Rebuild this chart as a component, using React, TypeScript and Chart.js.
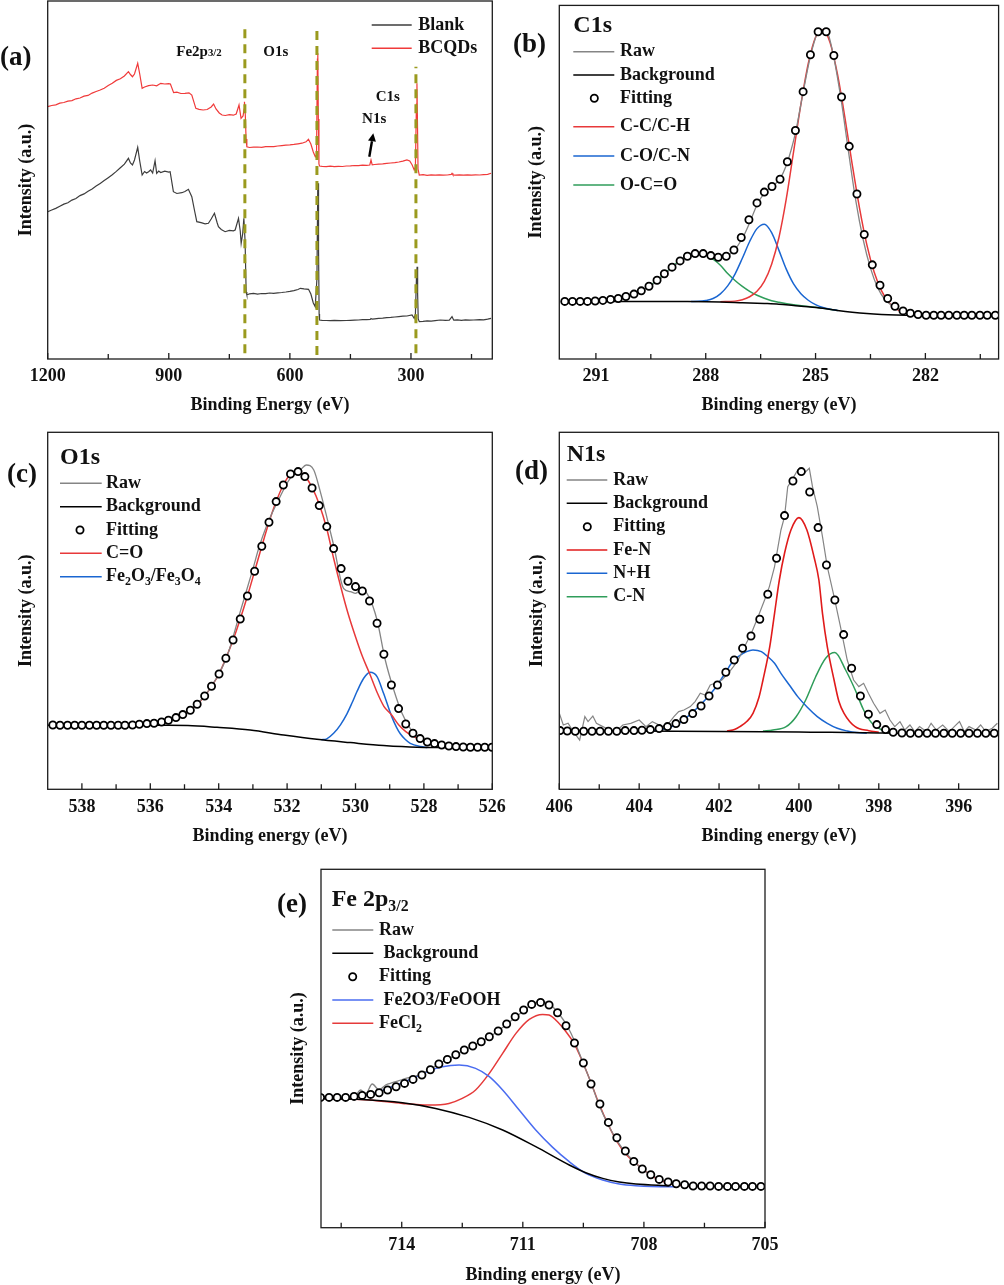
import React, { useEffect, useRef } from 'react';
import { Chart, registerables } from 'chart.js';

Chart.register(...registerables);

type P = [number, number];
type Seg = { t: string; sub?: boolean; small?: boolean };

const SERIF = "'Liberation Serif', 'Times New Roman', Times, serif";
const INK = '#111111';
const GRAY = '#858585';
const RED = '#e8393a';
const BLUE = '#1a66d1';
const GREEN = '#2f9d5a';
const RED_E = '#e53a3a';
const BLUE_E = '#4a6cf0';
const OLIVE = '#9a9a1e';
const SURVEY_RED = '#f03a3a';
const SURVEY_GRAY = '#3d3d3d';

// ---------- (a) survey: [binding energy eV, intensity a.u.] ----------
const SURVEY_BCQDS: P[] = [[1200,252.3],[1190,253.5],[1180,254.2],[1170,255.8],[1160,256.5],[1150,257.9],[1140,258.4],[1130,260.2],[1120,261.0],[1110,262.8],[1100,263.6],[1090,265.9],[1080,267.5],[1070,269.0],[1060,270.8],[1050,273.4],[1040,275.7],[1030,278.6],[1020,280.2],[1010,283.0],[1000,287.3],[995,284.5],[990,282.3],[985,285.0],[977,295.7],[972,285.0],[966,270.7],[960,272.0],[950,273.4],[940,274.0],[930,273.2],[920,275.7],[910,275.0],[900,275.4],[896,275.0],[888,266.3],[880,266.8],[870,265.5],[860,265.7],[850,266.2],[843,264.0],[833,250.7],[825,249.7],[815,249.0],[805,249.5],[795,252.0],[789,255.0],[783,250.0],[775,246.0],[768,244.0],[760,243.5],[750,244.3],[740,243.8],[733,245.0],[726,254.0],[721,240.7],[716,243.0],[713.5,250.0],[712.5,257.3],[710.5,245.0],[708.5,220.0],[706.6,212.3],[700,211.5],[690,211.8],[680,212.0],[670,211.6],[660,212.3],[650,212.5],[640,212.3],[630,213.0],[620,213.4],[610,213.8],[600,214.1],[590,214.6],[580,215.2],[570,215.8],[560,217.2],[554,219.7],[548,215.0],[542,207.0],[537,202.3],[534,204.0],[531.8,300.0],[530.8,305.7],[529.5,240.0],[528,195.0],[526.5,193.0],[520,192.6],[510,192.4],[500,192.9],[490,192.3],[480,192.7],[470,192.5],[460,193.0],[450,193.2],[440,193.5],[430,193.4],[420,193.8],[410,193.6],[402,194.0],[399,199.0],[396,194.2],[390,194.5],[380,194.8],[370,195.1],[360,195.6],[350,196.0],[340,196.4],[330,197.0],[320,197.8],[310,199.0],[303,198.0],[297,194.0],[292,189.0],[289,192.0],[286.5,255.0],[285.2,275.7],[284,240.0],[282.5,190.0],[279.4,184.0],[270,184.3],[260,183.7],[250,184.1],[240,183.9],[230,184.2],[220,183.8],[210,184.0],[200,184.6],[198.3,185.7],[196,184.1],[190,183.9],[180,184.2],[170,183.8],[160,184.1],[150,183.9],[140,184.2],[130,184.0],[120,184.3],[110,184.6],[101.6,185.7]];
const SURVEY_BLANK: P[] = [[1200,147.3],[1190,149.0],[1180,150.6],[1170,152.7],[1160,154.9],[1150,156.2],[1140,158.9],[1130,160.5],[1120,163.4],[1110,165.1],[1100,167.8],[1090,170.0],[1080,172.9],[1070,175.6],[1060,178.4],[1050,181.3],[1040,184.3],[1030,187.6],[1020,191.2],[1010,194.8],[1000,200.7],[995,196.0],[990,194.0],[985,199.0],[977,211.7],[972,198.0],[966,184.0],[960,187.5],[955,186.0],[950,187.3],[945,189.0],[940,186.0],[934,198.3],[930,185.7],[925,188.0],[920,186.5],[910,187.8],[900,186.9],[896.7,187.3],[888.6,167.3],[880,165.5],[867.7,166.3],[860,167.5],[851.4,169.7],[843,162.3],[836,148.0],[830.6,137.3],[820,136.3],[810,135.2],[801.8,135.7],[795,140.0],[786.9,145.7],[780,136.0],[777,132.3],[770,129.5],[760.4,127.3],[750,128.6],[740,128.1],[735.6,129.0],[727.3,140.7],[723,128.0],[720.7,115.7],[717,125.0],[714,140.7],[711,118.0],[708.3,67.0],[706.6,64.0],[700,65.2],[690,65.6],[680,64.9],[670,65.5],[660,65.3],[650,66.0],[640.6,65.7],[630,66.1],[620,66.5],[610,67.0],[600,67.6],[590,68.3],[580,69.5],[574,70.7],[565,70.2],[553.8,69.7],[548,65.0],[542,56.0],[537.2,52.3],[533,80.0],[531,170.0],[530.3,175.7],[529,110.0],[527.5,45.0],[526.5,39.0],[520,38.7],[510,38.5],[500,38.4],[490,38.6],[475,38.3],[460,38.5],[450,38.7],[440,38.9],[430,39.0],[420,39.3],[410,39.4],[400.8,39.7],[399,40.5],[396,39.8],[390,40.2],[380,40.6],[370,40.9],[360,41.3],[350,41.6],[340,42.0],[330,42.4],[320,42.8],[310,43.0],[297.4,44.0],[292,40.7],[289,45.0],[286.5,80.0],[284.8,92.3],[283.5,65.0],[282,40.0],[279.4,37.3],[270,37.6],[260,38.1],[250,37.8],[240,38.3],[227.3,39.0],[215,38.6],[205,38.9],[198.3,42.3],[194,38.8],[185,39.1],[175,38.7],[165,39.2],[155,38.9],[144.7,39.0],[130,39.4],[120,39.1],[110,39.8],[101.6,40.7]];
const MARK_FE: P[] = [[711.5,5.7],[711.5,334]];
const MARK_O: P[] = [[533,4],[533,330.7]];
const MARK_C: P[] = [[287.7,5.7],[287.7,292.3]];
const SURVEY_TICKS = [1200, 900, 600, 300];
const SURVEY_MINOR = [1050, 750, 450, 150];

// ---------- (b) C1s ----------
const C1S_FIT: P[] = [[291.85,58.3],[291.64,58.3],[291.43,58.3],[291.23,58.3],[291.02,58.7],[290.81,59.3],[290.60,60.3],[290.39,61.3],[290.18,63.3],[289.96,65.7],[289.76,69.0],[289.55,73.7],[289.33,79.7],[289.13,86.3],[288.92,93.0],[288.70,99.3],[288.50,104.0],[288.29,106.7],[288.07,106.7],[287.86,104.7],[287.66,103.0],[287.44,104.0],[287.23,110.3],[287.03,123.0],[286.82,141.0],[286.60,158.0],[286.40,169.0],[286.19,174.7],[285.97,182.0],[285.77,199.7],[285.55,231.3],[285.34,270.7],[285.14,308.0],[284.93,331.3],[284.71,331.3],[284.50,307.3],[284.29,265.3],[284.08,215.3],[283.87,167.0],[283.67,126.0],[283.45,95.3],[283.24,74.7],[283.03,61.3],[282.83,53.3],[282.61,48.7],[282.41,46.3],[282.20,45.0],[281.98,44.3],[281.77,44.3],[281.57,44.3],[281.36,44.3],[281.14,44.3],[280.94,44.3],[280.73,44.3],[280.51,44.3],[280.31,44.3],[280.09,44.3]];
const C1S_RAW: P[] = [[291.85,58.3],[291.5,58.4],[291.0,58.6],[290.6,59.5],[290.2,63.0],[289.9,66.0],[289.6,72.5],[289.3,79.0],[289.0,89.5],[288.7,99.0],[288.5,104.0],[288.3,106.5],[288.1,106.5],[287.85,104.5],[287.6,103.5],[287.45,104.0],[287.25,109.0],[287.0,122.0],[286.8,138.0],[286.6,156.0],[286.4,168.0],[286.2,174.5],[286.0,181.0],[285.8,196.0],[285.55,229.0],[285.35,268.0],[285.15,305.0],[284.95,330.0],[284.85,333.0],[284.7,332.0],[284.5,305.0],[284.3,262.0],[284.1,210.0],[283.9,160.0],[283.7,121.0],[283.5,92.0],[283.3,72.0],[283.1,60.0],[282.9,54.0],[282.7,50.0],[282.5,47.5],[282.2,45.5],[281.8,44.5],[281.0,44.3],[280.09,44.3]];
const C1S_BG: P[] = [[291.85,58.3],[290.0,58.3],[288.5,58.2],[287.6,57.8],[287.0,57.0],[286.4,56.2],[286.0,55.5],[285.6,54.2],[285.2,52.9],[284.8,51.3],[284.4,49.2],[284.0,47.4],[283.6,46.0],[283.2,45.1],[282.8,44.6],[282.4,44.4],[281.5,44.3],[280.09,44.3]];
const C1S_CC: P[] = [[287.6,58.0],[287.2,58.6],[287.0,60.0],[286.8,63.0],[286.6,68.5],[286.4,78.5],[286.2,96.0],[286.0,123.0],[285.8,162.0],[285.6,210.0],[285.4,258.0],[285.2,299.0],[285.0,325.8],[284.8,333.3],[284.6,319.8],[284.4,288.1],[284.2,244.9],[284.0,197.4],[283.8,153.0],[283.6,115.8],[283.4,88.1],[283.2,69.2],[283.0,57.4],[282.8,50.7],[282.6,47.3],[282.4,45.6],[282.2,44.8],[282.0,44.4]];
const C1S_CO: P[] = [[288.4,58.3],[288.2,58.4],[288.0,59.2],[287.8,61.2],[287.6,66.0],[287.4,74.0],[287.2,86.0],[287.0,102.0],[286.8,119.0],[286.6,132.0],[286.4,136.5],[286.2,128.0],[286.0,110.0],[285.8,91.0],[285.6,76.0],[285.4,66.0],[285.2,59.5],[285.0,55.0],[284.8,52.2],[284.6,50.5],[284.4,49.2]];
const C1S_OCO: P[] = [[290.8,59.5],[290.4,61.3],[290.0,65.5],[289.8,68.5],[289.6,72.5],[289.4,77.5],[289.2,84.0],[289.0,90.5],[288.8,97.0],[288.6,102.0],[288.4,105.5],[288.2,106.5],[288.0,105.5],[287.8,101.0],[287.6,95.0],[287.4,86.5],[287.2,79.5],[287.0,73.5],[286.8,68.5],[286.6,64.5],[286.4,61.5],[286.2,59.0],[286.0,57.5],[285.6,55.0],[285.2,53.2],[284.8,51.4],[284.4,49.2]];
const C1S_TICKS = [291, 288, 285, 282];
const C1S_MINOR = [289.5, 286.5, 283.5, 280.5];

// ---------- (c) O1s ----------
const O1S_FIT: P[] = [[538.85,64.3],[538.64,64.0],[538.42,64.0],[538.21,64.0],[538.00,64.0],[537.78,64.0],[537.57,64.0],[537.36,64.0],[537.15,64.0],[536.94,64.0],[536.74,64.0],[536.52,64.3],[536.32,65.0],[536.10,65.7],[535.89,66.0],[535.67,67.3],[535.47,69.0],[535.25,71.7],[535.05,74.7],[534.83,79.0],[534.63,85.0],[534.41,93.3],[534.21,103.0],[533.99,115.3],[533.79,131.0],[533.58,149.3],[533.37,170.3],[533.16,193.3],[532.95,218.0],[532.74,243.0],[532.53,267.0],[532.32,287.7],[532.11,304.3],[531.90,315.3],[531.68,317.7],[531.48,312.7],[531.27,301.3],[531.06,283.7],[530.84,262.7],[530.64,240.7],[530.42,220.7],[530.22,208.0],[530.00,202.7],[529.80,198.3],[529.59,188.3],[529.37,166.0],[529.17,135.0],[528.95,104.3],[528.74,80.7],[528.53,65.3],[528.32,56.0],[528.11,50.7],[527.90,47.3],[527.69,45.7],[527.48,44.3],[527.27,43.3],[527.06,42.7],[526.85,42.3],[526.64,42.0],[526.43,42.0],[526.22,42.0],[526.01,42.0]];
const O1S_RAW: P[] = [[538.85,64.3],[537.5,64.2],[536.5,64.3],[535.91,67.7],[535.4,70.5],[534.93,77.7],[534.35,96.0],[533.76,132.7],[533.37,177.7],[532.98,222.7],[532.83,241.0],[532.59,264.3],[532.30,286.0],[531.91,311.0],[531.61,319.3],[531.44,324.3],[531.22,319.3],[531.03,297.7],[530.83,271.0],[530.64,244.3],[530.35,201.0],[530.15,197.7],[530.00,196.0],[529.81,200.0],[529.61,192.7],[529.37,169.3],[529.13,129.3],[528.88,99.3],[528.64,76.0],[528.40,61.0],[528.10,51.0],[527.71,46.0],[527.2,43.5],[526.74,42.3],[526.01,42.0]];
const O1S_BG: P[] = [[539.0,64.0],[537.0,64.0],[535.5,64.0],[534.9,63.8],[534.05,62.0],[533.08,59.3],[532.1,54.3],[531.13,50.0],[530.15,46.7],[529.18,43.7],[528.2,42.0],[527.0,41.7],[526.0,41.7]];
const O1S_CO: P[] = [[536.5,64.2],[536.0,65.6],[535.67,67.3],[535.47,69.0],[535.25,71.7],[535.05,74.7],[534.83,79.0],[534.63,85.0],[534.41,93.3],[534.21,103.0],[533.99,115.3],[533.79,131.0],[533.58,149.3],[533.37,170.3],[533.16,193.3],[532.95,218.0],[532.74,243.0],[532.53,267.0],[532.32,287.7],[532.11,304.3],[531.90,315.3],[531.68,317.7],[531.48,313.0],[531.27,302.0],[531.06,285.0],[530.84,260.5],[530.64,231.0],[530.42,201.0],[530.22,176.0],[530.00,152.5],[529.80,133.0],[529.59,116.0],[529.37,97.0],[529.17,83.0],[528.95,74.5],[528.74,64.5],[528.53,57.7],[528.32,53.1],[528.11,49.9],[527.90,47.6],[527.69,45.0],[527.48,43.8],[527.27,42.8]];
const O1S_FEOX: P[] = [[531.0,49.5],[530.84,50.5],[530.64,56.0],[530.44,64.5],[530.25,75.5],[530.10,86.5],[529.96,97.5],[529.76,111.0],[529.57,117.0],[529.37,112.7],[529.18,96.0],[528.94,72.7],[528.80,62.0],[528.69,55.5],[528.55,50.0],[528.40,46.0],[528.10,42.7],[527.9,41.7]];
const O1S_TICKS = [538, 536, 534, 532, 530, 528, 526];
const O1S_MINOR = [537, 535, 533, 531, 529, 527];

// ---------- (d) N1s ----------
const N1S_FIT: P[] = [[405.98,58.7],[405.80,58.3],[405.60,58.0],[405.39,58.0],[405.18,58.0],[404.98,58.0],[404.77,58.0],[404.56,58.0],[404.35,58.7],[404.13,58.7],[403.93,59.0],[403.72,59.7],[403.50,60.7],[403.29,62.7],[403.08,65.7],[402.88,69.7],[402.66,75.7],[402.45,83.3],[402.25,93.3],[402.04,104.3],[401.83,117.0],[401.62,129.3],[401.41,141.0],[401.20,153.3],[400.98,170.0],[400.78,195.0],[400.56,231.0],[400.36,273.7],[400.15,308.3],[399.94,317.7],[399.73,297.3],[399.52,261.7],[399.31,224.3],[399.10,189.3],[398.88,154.7],[398.68,121.0],[398.46,93.3],[398.26,75.0],[398.05,64.7],[397.83,59.7],[397.64,57.0],[397.42,56.3],[397.21,56.0],[397.00,56.0],[396.79,56.0],[396.58,56.0],[396.37,56.0],[396.16,56.0],[395.95,56.0],[395.74,56.0],[395.53,56.0],[395.32,56.0],[395.11,56.0]];
const N1S_RAW: P[] = [[406.00,76.0],[405.90,64.3],[405.78,66.0],[405.65,57.7],[405.49,49.3],[405.36,72.7],[405.28,67.7],[405.16,73.3],[405.07,66.0],[404.91,62.7],[404.74,59.3],[404.58,57.7],[404.41,64.3],[404.21,66.0],[404.00,69.3],[403.83,62.7],[403.67,67.7],[403.42,62.7],[403.26,66.0],[403.13,72.7],[403.01,77.7],[402.88,79.3],[402.72,82.7],[402.60,87.7],[402.47,96.0],[402.35,94.3],[402.22,104.3],[402.10,106.0],[401.93,109.3],[401.77,116.0],[401.64,122.7],[401.52,129.3],[401.36,142.7],[401.19,156.0],[401.02,172.7],[400.86,189.3],[400.74,202.7],[400.61,222.7],[400.45,259.3],[400.36,272.7],[400.28,302.7],[400.20,307.7],[400.03,319.3],[399.87,316.0],[399.74,321.0],[399.66,302.7],[399.54,282.7],[399.41,252.7],[399.29,222.7],[399.12,192.7],[398.96,162.7],[398.79,129.3],[398.63,109.3],[398.50,102.7],[398.38,106.0],[398.26,96.0],[398.13,86.0],[397.97,76.0],[397.84,79.3],[397.72,69.3],[397.60,62.7],[397.47,67.7],[397.35,59.3],[397.22,64.3],[397.10,57.7],[396.98,62.7],[396.81,57.7],[396.69,66.0],[396.56,59.3],[396.40,64.3],[396.23,57.7],[396.11,62.7],[395.98,67.7],[395.86,57.7],[395.74,62.7],[395.57,59.3],[395.45,64.3],[395.32,57.7],[395.16,61.0],[395.03,66.0]];
const N1S_BG: P[] = [[406.0,58.7],[404.0,58.2],[402.0,57.8],[400.0,57.2],[399.2,57.0],[398.0,56.3],[397.5,56.0],[395.0,56.0]];
const N1S_FEN: P[] = [[401.8,58.2],[401.6,60.0],[401.48,62.6],[401.3,68.0],[401.15,76.0],[401.0,92.0],[400.9,109.3],[400.73,142.6],[400.61,176.0],[400.49,209.3],[400.36,236.0],[400.2,259.3],[400.0,271.7],[399.8,259.3],[399.62,232.0],[399.5,209.3],[399.41,176.0],[399.29,142.6],[399.12,109.3],[399.0,88.0],[398.87,76.0],[398.59,62.6],[398.25,58.6],[398.0,57.0]];
const N1S_NH: P[] = [[404.0,58.4],[403.5,59.3],[403.09,64.3],[402.84,71.0],[402.60,79.3],[402.35,89.3],[402.10,101.0],[401.85,116.0],[401.69,126.0],[401.52,132.7],[401.31,137.7],[401.15,139.3],[400.94,137.7],[400.78,132.7],[400.61,126.0],[400.45,116.0],[400.24,104.3],[400.03,92.7],[399.79,82.0],[399.54,72.7],[399.29,66.0],[399.04,61.0],[398.79,58.3],[398.55,56.7],[398.30,56.0]];
const N1S_CN: P[] = [[400.9,58.2],[400.65,59.3],[400.32,62.6],[400.07,72.6],[399.83,89.3],[399.58,112.6],[399.33,131.0],[399.10,136.7],[398.83,119.3],[398.59,99.3],[398.38,79.3],[398.17,66.0],[397.92,59.3],[397.7,57.0]];
const N1S_TICKS = [406, 404, 402, 400, 398, 396];
const N1S_MINOR = [405, 403, 401, 399, 397];

// ---------- (e) Fe 2p3/2 ----------
const FE_FIT: P[] = [[716.01,130.3],[715.80,130.3],[715.60,130.3],[715.39,130.3],[715.18,131.3],[714.98,132.3],[714.77,133.3],[714.56,135.0],[714.35,137.7],[714.14,141.0],[713.93,144.3],[713.72,148.3],[713.50,152.7],[713.29,158.0],[713.08,163.7],[712.87,168.3],[712.66,173.0],[712.45,177.7],[712.24,181.7],[712.03,186.0],[711.83,191.0],[711.61,196.7],[711.40,203.7],[711.19,211.0],[710.98,217.7],[710.78,223.3],[710.56,225.3],[710.35,222.7],[710.14,215.0],[709.93,202.0],[709.72,184.7],[709.50,164.7],[709.31,143.7],[709.09,123.7],[708.88,105.3],[708.67,90.0],[708.46,76.7],[708.25,66.3],[708.04,58.7],[707.83,53.0],[707.62,48.3],[707.40,45.7],[707.20,44.0],[706.99,43.0],[706.78,41.7],[706.57,41.7],[706.36,41.7],[706.15,41.3],[705.93,41.3],[705.73,41.3],[705.51,41.3],[705.31,41.3],[705.10,41.3]];
const FE_RAW: P[] = [[716.01,130.3],[715.39,130.3],[715.14,132.7],[715.02,137.7],[714.89,134.3],[714.73,143.7],[714.56,137.7],[714.40,142.7],[714.23,145.0],[714.07,147.0],[713.90,149.3],[713.65,151.7],[713.32,157.7],[712.99,166.0],[712.66,172.7],[712.33,180.0],[712.00,186.7],[711.67,195.0],[711.34,205.3],[711.01,216.0],[710.76,223.7],[710.60,226.0],[710.39,225.0],[710.26,221.0],[710.10,213.7],[709.89,201.0],[709.73,187.7],[709.52,166.0],[709.31,145.0],[709.11,122.7],[708.86,101.0],[708.65,86.0],[708.45,75.0],[708.24,66.0],[708.03,58.3],[707.79,52.0],[707.37,45.0],[706.96,42.7],[706.55,41.7],[705.10,41.3]];
const FE_BG: P[] = [[716.0,129.3],[714.98,128.3],[713.98,125.0],[713.16,119.3],[712.33,110.3],[711.50,97.7],[710.68,81.0],[709.85,62.7],[709.44,55.0],[709.02,49.3],[708.61,45.7],[708.20,43.7],[707.37,42.0]];
const FE_OX: P[] = [[716.0,129.3],[715.5,130.0],[715.0,131.5],[714.56,136.0],[714.14,142.5],[713.72,149.5],[713.32,157.0],[712.99,161.0],[712.58,162.7],[712.17,159.3],[711.83,151.0],[711.50,137.7],[711.09,117.7],[710.68,97.7],[710.26,80.3],[709.85,66.0],[709.44,54.3],[709.02,47.7],[708.61,43.7],[708.20,42.0],[707.37,41.0],[707.2,41.0]];
const FE_CL: P[] = [[716.0,129.3],[715.5,128.8],[714.81,127.7],[713.98,124.3],[713.32,122.7],[712.83,124.3],[712.50,129.3],[712.17,137.7],[711.83,154.3],[711.50,174.3],[711.17,194.3],[710.84,208.3],[710.51,213.3],[710.35,212.7],[710.10,204.3],[709.93,196.0],[709.73,184.3],[709.52,166.0],[709.31,145.0],[709.11,123.7],[708.86,101.0],[708.65,85.0],[708.45,73.7],[708.20,64.3],[707.95,56.0],[707.70,49.3],[707.37,44.3],[706.96,42.0],[706.55,41.3]];
const FE_TICKS = [714, 711, 708, 705];
const FE_MINOR = [715.5, 712.5, 709.5, 706.5];

// ---------- helpers ----------
const toXY = (a: P[]) => a.map(([x, y]) => ({ x, y }));
const DOT_R = 3.6;
const DOT_W = 1.8;

function line(data: P[], color: string, width = 1.5, smooth = true, order = 1, dash: number[] = []) {
  return {
    type: 'line', data: toXY(data), borderColor: color, borderWidth: width,
    pointRadius: 0, pointHoverRadius: 0, fill: false, tension: 0,
    cubicInterpolationMode: smooth ? 'monotone' : 'default',
    order, clip: 0, borderDash: dash,
  };
}
function dots(data: P[]) {
  return {
    type: 'line', data: toXY(data), showLine: false, pointRadius: DOT_R, pointHoverRadius: DOT_R,
    pointBorderWidth: DOT_W, pointBackgroundColor: '#ffffff', pointBorderColor: '#000000',
    borderColor: '#000000', order: 0, clip: 0,
  };
}

interface LegendItem { kind: 'line' | 'circle'; color?: string; y: number; segs: Seg[] }
interface TextItem { x: number; y: number; segs: Seg[]; size: number; align?: 'left' | 'center' }
interface Deco {
  major: number[]; minor: number[]; texts: TextItem[];
  legend?: { x0: number; x1: number; tx: number; cx: number; items: LegendItem[] };
  arrow?: [number, number, number, number];
}

function segFont(s: Seg, size: number) {
  const sz = s.sub ? size * 0.66 : s.small ? size * 0.72 : size;
  return `bold ${sz}px ${SERIF}`;
}
function drawRich(ctx: CanvasRenderingContext2D, x: number, y: number, segs: Seg[], size: number, align: string) {
  let w = 0;
  for (const s of segs) { ctx.font = segFont(s, size); w += ctx.measureText(s.t).width; }
  let cx = align === 'center' ? x - w / 2 : x;
  ctx.textAlign = 'left';
  ctx.textBaseline = 'middle';
  for (const s of segs) {
    ctx.font = segFont(s, size);
    const dy = s.sub ? size * 0.3 : s.small ? size * 0.12 : 0;
    ctx.fillText(s.t, cx, y + dy);
    cx += ctx.measureText(s.t).width;
  }
}

function decoPlugin(d: Deco) {
  return {
    id: 'deco',
    afterDatasetsDraw(chart: any) {
      const { ctx, chartArea: a } = chart;
      const xs = chart.scales.x;
      ctx.save();
      ctx.strokeStyle = '#1c1c1c';
      ctx.lineWidth = 1.3;
      ctx.strokeRect(a.left, a.top, a.right - a.left, a.bottom - a.top);
      ctx.beginPath();
      d.major.forEach((v) => { const p = xs.getPixelForValue(v); ctx.moveTo(p, a.bottom); ctx.lineTo(p, a.bottom - 6); });
      d.minor.forEach((v) => { const p = xs.getPixelForValue(v); ctx.moveTo(p, a.bottom); ctx.lineTo(p, a.bottom - 5); });
      ctx.stroke();
      ctx.fillStyle = INK;
      d.texts.forEach((t) => drawRich(ctx, t.x, t.y, t.segs, t.size, t.align || 'left'));
      if (d.legend) {
        const L = d.legend;
        L.items.forEach((it) => {
          if (it.kind === 'line') {
            ctx.strokeStyle = it.color || '#000';
            ctx.lineWidth = 1.6;
            ctx.beginPath(); ctx.moveTo(L.x0, it.y); ctx.lineTo(L.x1, it.y); ctx.stroke();
          } else {
            ctx.beginPath(); ctx.arc(L.cx, it.y, DOT_R, 0, Math.PI * 2);
            ctx.fillStyle = '#fff'; ctx.fill();
            ctx.strokeStyle = '#000'; ctx.lineWidth = DOT_W; ctx.stroke();
          }
          ctx.fillStyle = INK;
          drawRich(ctx, L.tx, it.y, it.segs, 18, 'left');
        });
      }
      if (d.arrow) {
        const [x1, y1, x2, y2] = d.arrow;
        const ang = Math.atan2(y2 - y1, x2 - x1);
        const hl = 8, hw = 4;
        const bx = x2 - hl * Math.cos(ang), by = y2 - hl * Math.sin(ang);
        ctx.strokeStyle = '#000'; ctx.fillStyle = '#000'; ctx.lineWidth = 2.4;
        ctx.beginPath(); ctx.moveTo(x1, y1); ctx.lineTo(bx, by); ctx.stroke();
        ctx.beginPath(); ctx.moveTo(x2, y2);
        ctx.lineTo(bx + hw * Math.sin(ang), by - hw * Math.cos(ang));
        ctx.lineTo(bx - hw * Math.sin(ang), by + hw * Math.cos(ang));
        ctx.closePath(); ctx.fill();
      }
      ctx.restore();
    },
  };
}

interface Spec {
  left: number; top: number; W: number; H: number;
  area: { l: number; t: number; r: number; b: number };
  xMin: number; xMax: number; yMax: number;
  xTitle: string; xPad: number; yTitleX: number; tickPad: number;
  datasets: any[]; deco: Deco;
}

function buildConfig(s: Spec): any {
  const font = { family: SERIF, size: 18, weight: 'bold' };
  return {
    type: 'line',
    data: { datasets: s.datasets },
    options: {
      responsive: false, animation: false, devicePixelRatio: 1, events: [],
      layout: { padding: { left: 0, top: s.area.t, right: s.W - s.area.r, bottom: 0 } },
      plugins: { legend: { display: false }, tooltip: { enabled: false } },
      scales: {
        x: {
          type: 'linear', reverse: true, min: s.xMin, max: s.xMax,
          grid: { display: false, drawTicks: false }, border: { display: false },
          ticks: { font, color: INK, padding: s.tickPad, autoSkip: false, maxRotation: 0, minRotation: 0,
            callback: (v: any) => String(v) },
          afterBuildTicks: (sc: any) => { sc.ticks = s.deco.major.map((v) => ({ value: v })); },
          afterFit: (sc: any) => { sc.height = s.H - s.area.b; sc.paddingLeft = 0; sc.paddingRight = 0; },
          title: { display: true, text: s.xTitle, font, color: INK, padding: { top: 0, bottom: s.xPad } },
        },
        y: {
          type: 'linear', min: 0, max: s.yMax,
          grid: { display: false, drawTicks: false }, border: { display: false },
          ticks: { display: false },
          afterFit: (sc: any) => { sc.width = s.area.l; sc.paddingTop = 0; sc.paddingBottom = 0; },
          title: { display: true, text: 'Intensity (a.u.)', font, color: INK, padding: { top: s.yTitleX - 10.8, bottom: 0 } },
        },
      },
    },
    plugins: [decoPlugin(s.deco)],
  };
}

const T = (t: string): Seg[] => [{ t }];

const PANEL_A: Spec = {
  left: 0, top: 0, W: 500, H: 420, area: { l: 47.7, t: 1, r: 492.3, b: 359 },
  xMin: 98.5, xMax: 1200, yMax: 358, xTitle: 'Binding Energy (eV)', xPad: 4.2, yTitleX: 26.7, tickPad: 6.6,
  datasets: [
    line(MARK_FE, OLIVE, 3, false, 0, [9, 6]),
    line(MARK_O, OLIVE, 3, false, 0, [9, 6]),
    line(MARK_C, OLIVE, 3, false, 0, [9, 6]),
    line(SURVEY_BCQDS, SURVEY_RED, 1.2, false, 1),
    line(SURVEY_BLANK, SURVEY_GRAY, 1.2, false, 2),
  ],
  deco: {
    major: SURVEY_TICKS, minor: SURVEY_MINOR,
    texts: [
      { x: 0, y: 58.3, segs: T('(a)'), size: 27 },
      { x: 199, y: 51.7, segs: [{ t: 'Fe2p' }, { t: '3/2', small: true }], size: 15, align: 'center' },
      { x: 275.8, y: 51.7, segs: T('O1s'), size: 15, align: 'center' },
      { x: 387.8, y: 96.7, segs: T('C1s'), size: 15, align: 'center' },
      { x: 374.2, y: 119, segs: T('N1s'), size: 15, align: 'center' },
    ],
    legend: { x0: 371.7, x1: 411.7, tx: 418.3, cx: 391.7, items: [
      { kind: 'line', color: SURVEY_GRAY, y: 25, segs: T('Blank') },
      { kind: 'line', color: SURVEY_RED, y: 48.3, segs: T('BCQDs') },
    ] },
    arrow: [369.3, 156.7, 373.3, 133.3],
  },
};

const PANEL_B: Spec = {
  left: 500, top: 0, W: 504, H: 420, area: { l: 59.3, t: 1, r: 502.7, b: 359 },
  xMin: 280, xMax: 292, yMax: 358, xTitle: 'Binding energy (eV)', xPad: 4.2, yTitleX: 36, tickPad: 6.6,
  datasets: [
    dots(C1S_FIT),
    line(C1S_BG, '#000000', 1.5, true, 1),
    line(C1S_RAW, GRAY, 1.3, true, 2),
    line(C1S_CC, RED, 1.5, true, 3),
    line(C1S_CO, BLUE, 1.5, true, 3),
    line(C1S_OCO, GREEN, 1.5, true, 3),
  ],
  deco: {
    major: C1S_TICKS, minor: C1S_MINOR,
    texts: [
      { x: 13, y: 45, segs: T('(b)'), size: 27 },
      { x: 73.3, y: 26, segs: T('C1s'), size: 24 },
    ],
    legend: { x0: 73.3, x1: 114.3, tx: 120, cx: 94.3, items: [
      { kind: 'line', color: GRAY, y: 51.7, segs: T('Raw') },
      { kind: 'line', color: '#000', y: 75, segs: T('Background') },
      { kind: 'circle', y: 98.3, segs: T('Fitting') },
      { kind: 'line', color: RED, y: 126.7, segs: T('C-C/C-H') },
      { kind: 'line', color: BLUE, y: 156, segs: T('C-O/C-N') },
      { kind: 'line', color: GREEN, y: 185, segs: T('O-C=O') },
    ] },
  },
};

const PANEL_C: Spec = {
  left: 0, top: 420, W: 512, H: 430, area: { l: 47.7, t: 12.3, r: 492.3, b: 369.3 },
  xMin: 526, xMax: 539, yMax: 357, xTitle: 'Binding energy (eV)', xPad: 3.2, yTitleX: 26.3, tickPad: 7.3,
  datasets: [
    dots(O1S_FIT),
    line(O1S_BG, '#000000', 1.5, true, 1),
    line(O1S_RAW, GRAY, 1.3, true, 2),
    line(O1S_CO, RED, 1.5, true, 3),
    line(O1S_FEOX, BLUE, 1.5, true, 3),
  ],
  deco: {
    major: O1S_TICKS, minor: O1S_MINOR,
    texts: [
      { x: 7, y: 55, segs: T('(c)'), size: 27 },
      { x: 60, y: 37.7, segs: T('O1s'), size: 24 },
    ],
    legend: { x0: 60, x1: 101.7, tx: 106, cx: 80, items: [
      { kind: 'line', color: GRAY, y: 63.3, segs: T('Raw') },
      { kind: 'line', color: '#000', y: 86.7, segs: T('Background') },
      { kind: 'circle', y: 110, segs: T('Fitting') },
      { kind: 'line', color: RED, y: 133.3, segs: T('C=O') },
      { kind: 'line', color: BLUE, y: 156.7, segs: [{ t: 'Fe' }, { t: '2', sub: true }, { t: 'O' }, { t: '3', sub: true }, { t: '/Fe' }, { t: '3', sub: true }, { t: 'O' }, { t: '4', sub: true }] },
    ] },
  },
};

const PANEL_D: Spec = {
  left: 500, top: 420, W: 504, H: 430, area: { l: 59.3, t: 12.3, r: 502.7, b: 369.3 },
  xMin: 395, xMax: 406, yMax: 357, xTitle: 'Binding energy (eV)', xPad: 3.2, yTitleX: 37.3, tickPad: 7.3,
  datasets: [
    dots(N1S_FIT),
    line(N1S_BG, '#000000', 1.5, true, 1),
    line(N1S_RAW, GRAY, 1.2, false, 2),
    line(N1S_FEN, '#e01b1b', 1.6, true, 3),
    line(N1S_NH, BLUE, 1.5, true, 3),
    line(N1S_CN, GREEN, 1.5, true, 3),
  ],
  deco: {
    major: N1S_TICKS, minor: N1S_MINOR,
    texts: [
      { x: 15, y: 51.7, segs: T('(d)'), size: 27 },
      { x: 66.7, y: 34.3, segs: T('N1s'), size: 24 },
    ],
    legend: { x0: 66.7, x1: 107.3, tx: 113.3, cx: 87.3, items: [
      { kind: 'line', color: GRAY, y: 60, segs: T('Raw') },
      { kind: 'line', color: '#000', y: 83.3, segs: T('Background') },
      { kind: 'circle', y: 106.7, segs: T('Fitting') },
      { kind: 'line', color: '#e01b1b', y: 130, segs: T('Fe-N') },
      { kind: 'line', color: BLUE, y: 153.3, segs: T('N+H') },
      { kind: 'line', color: GREEN, y: 176.7, segs: T('C-N') },
    ] },
  },
};

const PANEL_E: Spec = {
  left: 270, top: 860, W: 510, H: 425, area: { l: 51, t: 9.3, r: 495, b: 367.7 },
  xMin: 705, xMax: 716, yMax: 358.4, xTitle: 'Binding energy (eV)', xPad: -0.8, yTitleX: 28.3, tickPad: 7.2,
  datasets: [
    dots(FE_FIT),
    line(FE_BG, '#000000', 1.5, true, 1),
    line(FE_RAW, GRAY, 1.3, true, 2),
    line(FE_OX, BLUE_E, 1.5, true, 3),
    line(FE_CL, RED_E, 1.5, true, 3),
  ],
  deco: {
    major: FE_TICKS, minor: FE_MINOR,
    texts: [
      { x: 7, y: 45, segs: T('(e)'), size: 27 },
      { x: 61.7, y: 39.3, segs: [{ t: 'Fe 2p' }, { t: '3/2', sub: true }], size: 24 },
    ],
    legend: { x0: 62.3, x1: 103.3, tx: 109, cx: 82.7, items: [
      { kind: 'line', color: GRAY, y: 70, segs: T('Raw') },
      { kind: 'line', color: '#000', y: 93.3, segs: T(' Background') },
      { kind: 'circle', y: 116.7, segs: T('Fitting') },
      { kind: 'line', color: BLUE_E, y: 140, segs: T(' Fe2O3/FeOOH') },
      { kind: 'line', color: RED_E, y: 163.3, segs: [{ t: 'FeCl' }, { t: '2', sub: true }] },
    ] },
  },
};

const PANELS = [PANEL_A, PANEL_B, PANEL_C, PANEL_D, PANEL_E];

function ChartPanel({ spec }: { spec: Spec }) {
  const ref = useRef<HTMLCanvasElement>(null);
  useEffect(() => {
    const chart = new Chart(ref.current as HTMLCanvasElement, buildConfig(spec));
    return () => chart.destroy();
  }, [spec]);
  return (
    <canvas
      ref={ref}
      width={spec.W}
      height={spec.H}
      style={{ position: 'absolute', left: spec.left, top: spec.top, width: spec.W, height: spec.H }}
    />
  );
}

export default function App() {
  return (
    <div style={{ position: 'absolute', left: 0, top: 0, width: 1004, height: 1285, overflow: 'hidden', background: '#ffffff' }}>
      {PANELS.map((p, i) => <ChartPanel key={i} spec={p} />)}
    </div>
  );
}
